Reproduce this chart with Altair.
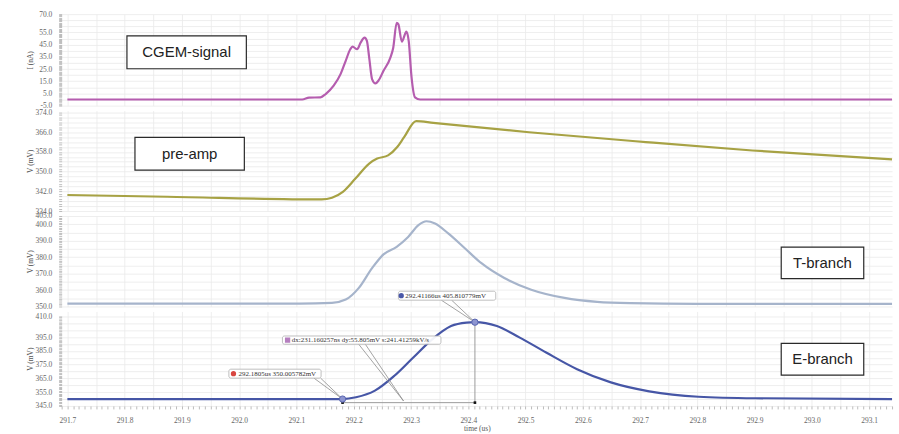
import altair as alt
import pandas as pd

# ---------------- data ----------------
T_DOMAIN = [291.69, 293.14]          # time window (us)

# CGEM detector current (nA)
cgem_t = [291.70, 292.110, 292.122, 292.142, 292.151, 292.165, 292.177, 292.186,
          292.194, 292.198, 292.206, 292.212, 292.219, 292.223, 292.227, 292.232,
          292.238, 292.243, 292.252, 292.264, 292.269, 292.275, 292.278, 292.284,
          292.292, 292.296, 292.301, 292.307, 292.316, 293.14]
cgem_i = [0.0, 0.0, 1.5, 1.8, 4.5, 11.3, 20.8, 31.7,
          41.2, 43.3, 41.2, 46.6, 50.7, 48.0, 34.4, 16.8,
          13.2, 15.4, 23.5, 34.4, 42.5, 62.9, 61.6, 47.4,
          55.6, 48.0, 18.1, 1.8, 0.0, 0.0]

# charge pre-amplifier output (mV)
preamp_t = [291.70, 291.874, 292.144, 292.162, 292.181, 292.203, 292.227, 292.241,
            292.260, 292.276, 292.288, 292.309, 292.339, 292.506, 292.710, 292.896, 293.14]
preamp_v = [340.5, 339.8, 338.7, 339.4, 341.8, 347.2, 353.3, 355.3,
            356.6, 360.0, 364.0, 370.5, 369.8, 366.0, 362.0, 358.6, 355.0]

# timing branch (mV)
tbranch_t = [291.70, 292.105, 292.162, 292.186, 292.209, 292.232, 292.252, 292.275,
             292.295, 292.313, 292.327, 292.342, 292.365, 292.394, 292.423, 292.463,
             292.510, 292.568, 292.625, 292.683, 292.799, 293.14]
tbranch_v = [351.8, 351.8, 352.2, 354.2, 361.3, 373.3, 381.7, 386.3,
             392.3, 399.4, 401.8, 400.4, 394.4, 385.4, 376.3, 367.3,
             360.2, 355.2, 352.8, 352.0, 351.6, 351.6]

# energy branch (mV)
ebranch_t = [291.70, 292.1805, 292.204, 292.237, 292.271, 292.304, 292.337, 292.370,
             292.397, 292.41166, 292.45, 292.49, 292.536, 292.590, 292.649, 292.716,
             292.802, 292.901, 293.14]
ebranch_v = [350.0, 350.005782, 351.3, 356.1, 366.9, 380.2, 393.4, 403.0,
             405.5, 405.810779, 403.0, 394.6, 383.8, 371.7, 362.1, 355.6,
             351.7, 350.6, 350.0]

# cursors placed on the energy branch
cursor_t = [292.1805, 292.41166]
cursor_v = [350.005782, 405.810779]
cursor_text = ["292.1805us 350.005782mV", "292.41166us 405.810779mV"]
delta_text = "dx:231.160257ns dy:55.805mV s:241.41259kV/s"
measure_level = 347.4   # level of the dx measuring bar (mV)

# axis tick labels
cgem_labels = [-5, 5, 15, 25, 35, 45, 55, 70]
preamp_labels = [334, 342, 350, 358, 366, 374]
tbranch_labels = [350, 360, 370, 380, 390, 400, 405]
ebranch_labels = [345, 355, 365, 375, 385, 395, 410]

# ---------------- styling ----------------
W = 835
SERIF = "Liberation Serif"
SANS = "Liberation Sans"
C_CGEM, C_PRE, C_T, C_E = "#B55DAF", "#A7A244", "#A6B4CB", "#4656A6"

x_minor = [round(T_DOMAIN[0] + k * 0.01, 2) for k in range(146)]
x_grid = [round(291.70 + k * 0.05, 2) for k in range(29)]

x_scale = alt.Scale(domain=T_DOMAIN, nice=False, zero=False)


def fmt(expr):
    return f"replace(format({expr}, '.1f'), '\u2212', '-')"


def y_axis(title, lo, hi, labels, grid_step):
    lab = "[" + ",".join(str(v) for v in labels) + "]"
    return alt.Axis(
        title=title,
        values=list(range(lo, hi + 1)),
        tickCount=1000,
        labelExpr=f"indexof({lab}, datum.value) >= 0 ? {fmt('datum.value')} : ''",
        gridOpacity={"condition": {"test": f"datum.value % {grid_step} === 0", "value": 1},
                     "value": 0},
        labelOverlap=False,
        labelFlush=False,
        minExtent=26,
        maxExtent=26,
        titlePadding=1,
    )


x_axis_top = alt.Axis(values=x_grid, tickCount=1000, labels=False, ticks=False,
                      title=None, domain=False)
x_axis_bottom = alt.Axis(
    values=x_minor,
    tickCount=1000,
    labelExpr=f"abs(datum.value*10 - round(datum.value*10)) < 1e-6 ? {fmt('datum.value')} : ''",
    gridOpacity={"condition": {"test": "abs(datum.value*20 - round(datum.value*20)) < 1e-6",
                               "value": 1}, "value": 0},
    labelOverlap=False,
    labelFlush=False,
    labelPadding=8,
    title="time (us)",
    titlePadding=0,
)

one = pd.DataFrame({"n": [0]})


def trace(t, v, color, y_dom, yax, xax):
    df = pd.DataFrame({"t": t, "v": v})
    return alt.Chart(df).mark_line(interpolate="monotone", strokeWidth=2.2, color=color).encode(
        x=alt.X("t:Q", scale=x_scale, axis=xax),
        y=alt.Y("v:Q", scale=alt.Scale(domain=y_dom, nice=False, zero=False), axis=yax),
    )


def name_box(x0, x1, y0, y1, label):
    box = alt.Chart(one).mark_rect(fill="white", stroke="#2a2a2a", strokeWidth=1.2).encode(
        x=alt.datum(x0), x2=alt.datum(x1), y=alt.datum(y0), y2=alt.datum(y1))
    txt = alt.Chart(one).mark_text(font=SANS, fontSize=15, color="#222").encode(
        x=alt.datum((x0 + x1) / 2), y=alt.datum((y0 + y1) / 2), text=alt.value(label))
    return box + txt


# ---------------- panels ----------------
p1 = alt.layer(
    trace(cgem_t, cgem_i, C_CGEM, [-5, 70], y_axis("I (nA)", -5, 70, cgem_labels, 5), x_axis_top),
    name_box(291.804, 292.0125, 52.1, 25.2, "CGEM-signal"),
).properties(width=W, height=92)

p2 = alt.layer(
    trace(preamp_t, preamp_v, C_PRE, [334, 374.8], y_axis("V (mV)", 334, 374, preamp_labels, 2), x_axis_top),
    name_box(291.818, 292.009, 363.9, 350.6, "pre-amp"),
).properties(width=W, height=101)

p3 = alt.layer(
    trace(tbranch_t, tbranch_v, C_T, [350, 405], y_axis("V (mV)", 350, 405, tbranch_labels, 5), x_axis_top),
    name_box(292.9465, 293.0906, 386.1, 366.9, "T-branch"),
).properties(width=W, height=91)

# cursor readouts on the energy branch
cur = pd.DataFrame({"t": cursor_t, "v": cursor_v})
leaders = pd.DataFrame({
    "t0": [292.1306, 292.1422, 292.353, 292.371, 292.2087, 292.2203],
    "v0": [365.2, 365.2, 421.8, 421.8, 389.8, 389.8],
    "t1": [cursor_t[0], cursor_t[0], cursor_t[1], cursor_t[1], 292.287, 292.287],
    "v1": [cursor_v[0], cursor_v[0], cursor_v[1], cursor_v[1], 348.6, 348.6],
})
readout = pd.DataFrame({
    "x0": [291.982, 292.278, 292.0755],
    "x1": [292.143, 292.448, 292.3523],
    "y0": [371.7, 428.3, 395.8],
    "y1": [365.2, 421.8, 389.8],
    "tx": [291.999, 292.290, 292.092],
    "ix": [291.990, 292.283, 292.0845],
    "label": [cursor_text[0], cursor_text[1], delta_text],
    "icon": ["a", "b", "d"],
})
readout["ty"] = (readout["y0"] + readout["y1"]) / 2

lead_rules = alt.Chart(leaders).mark_rule(color="#8c8c8c", strokeWidth=0.8).encode(
    x="t0:Q", x2="t1:Q", y="v0:Q", y2="v1:Q")
bar_h = alt.Chart(one).mark_rule(color="#9a9a9a", strokeWidth=1).encode(
    x=alt.datum(cursor_t[0]), x2=alt.datum(cursor_t[1]),
    y=alt.datum(measure_level), y2=alt.datum(measure_level))
bar_v = alt.Chart(one).mark_rule(color="#9a9a9a", strokeWidth=1).encode(
    x=alt.datum(cursor_t[1]), x2=alt.datum(cursor_t[1]),
    y=alt.datum(cursor_v[1]), y2=alt.datum(measure_level))
bar_ends = alt.Chart(pd.DataFrame({"t": cursor_t, "v": [measure_level, measure_level]})).mark_square(
    size=7, color="#111", opacity=1).encode(x="t:Q", y="v:Q")
boxes = alt.Chart(readout).mark_rect(fill="white", fillOpacity=0.92, stroke="#b0b0b0",
                                     strokeWidth=0.8, cornerRadius=2).encode(
    x="x0:Q", x2="x1:Q", y="y0:Q", y2="y1:Q")
texts = alt.Chart(readout).mark_text(align="left", baseline="middle", font=SERIF,
                                     fontSize=7, color="#333").encode(
    x="tx:Q", y="ty:Q", text="label:N")
icons = alt.Chart(readout).mark_point(filled=True, size=28, opacity=1).encode(
    x="ix:Q", y="ty:Q",
    shape=alt.Shape("icon:N", scale=alt.Scale(domain=["a", "b", "d"],
                                              range=["circle", "circle", "square"]), legend=None),
    color=alt.Color("icon:N", scale=alt.Scale(domain=["a", "b", "d"],
                                              range=["#d8453f", "#4a58a8", "#b57fbf"]), legend=None),
)
markers = alt.Chart(cur).mark_point(filled=True, size=40, color="#8d95d0", opacity=1,
                                    stroke="#5a66b0", strokeWidth=1).encode(x="t:Q", y="v:Q")

p4 = alt.layer(
    trace(ebranch_t, ebranch_v, C_E, [345, 413.6], y_axis("V (mV)", 345, 410, ebranch_labels, 5), x_axis_bottom),
    bar_h, bar_v, bar_ends, lead_rules, boxes, texts, icons, markers,
    name_box(292.9465, 293.0906, 390.5, 367.4, "E-branch"),
).properties(width=W, height=95)

chart = alt.vconcat(p1, p2, p3, p4, spacing=5, bounds="flush").properties(
    padding={"left": 27, "top": 9, "right": 2, "bottom": 0}
).configure_view(stroke=None).configure_axis(
    labelFont=SERIF, labelFontSize=7.5, labelColor="#666",
    titleFont=SERIF, titleFontSize=7.5, titleFontWeight="normal", titleColor="#555",
    tickColor="#aaa", tickSize=3, tickWidth=0.8, labelPadding=7, domain=False,
    gridColor="#e9e9e9", gridWidth=0.8,
)

chart.save("out.html", embed_options={"renderer": "svg", "actions": False})
